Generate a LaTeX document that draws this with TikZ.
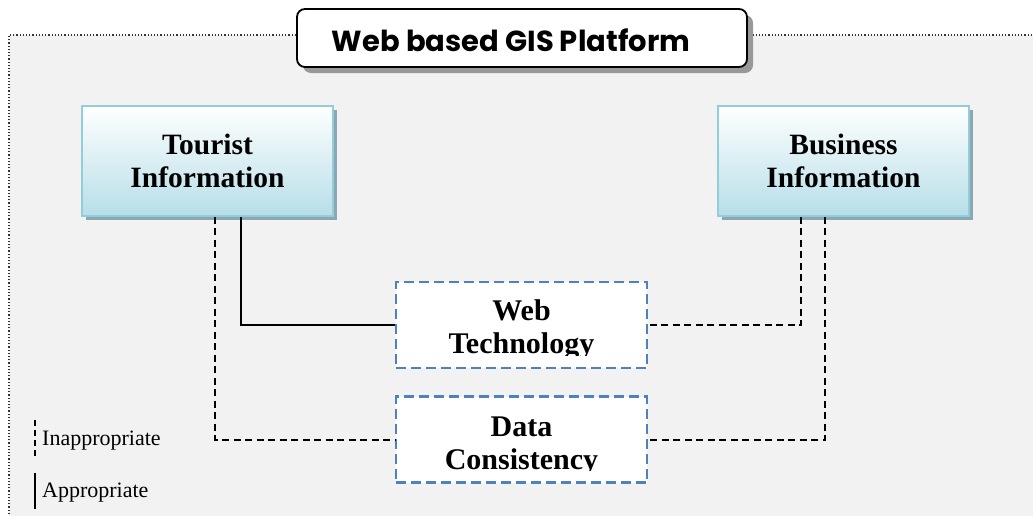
\documentclass[tikz,border=0pt]{standalone}
\usepackage{fontspec}
\setmainfont{Liberation Serif}
\newfontfamily\titlefont{Poppins}
\usetikzlibrary{calc}
\definecolor{bgray}{HTML}{F2F2F2}
\definecolor{infoborder}{HTML}{92CDDC}
\definecolor{infobottom}{HTML}{B7DEE8}
\definecolor{infoshadow}{HTML}{8BA7B2}
\definecolor{dashblue}{HTML}{4F81BD}
\tikzset{
  infobox/.style={draw=infoborder, line width=2pt, top color=white, bottom color=infobottom, middle color=white!50!infobottom,
    minimum width=251pt, minimum height=110pt, inner sep=0pt, align=center,
    font=\fontsize{29.5}{33}\selectfont\bfseries},
  infoshadowbox/.style={fill=infoshadow, minimum width=251pt, minimum height=110pt, inner sep=0pt},
  techbox/.style={draw=dashblue, line width=2.6pt, dash pattern=on 10pt off 5pt, fill=white,
    minimum width=251pt, minimum height=86pt, inner sep=0pt},
  techtext/.style={anchor=base, inner sep=0pt, font=\fontsize{30}{33}\selectfont\bfseries},
  conn/.style={line width=2pt, black},
  dconn/.style={conn, dash pattern=on 7pt off 4.5pt},
  legendtext/.style={anchor=base west, inner sep=0pt, font=\fontsize{22}{24}\selectfont},
}
\begin{document}
\begin{tikzpicture}[x=1pt,y=-1pt]
\useasboundingbox (0,0) rectangle (1033,515);
% background panel
\fill[bgray] (9,35) rectangle (1045,530);
\draw[line width=1.2pt, dotted, black!80] (9,530) -- (9,35) -- (1045,35);
% title
\fill[black!40, rounded corners=8pt] (303,15) rectangle (753,73);
\node[draw=black, line width=1.8pt, fill=white, rounded corners=8pt, minimum width=450pt, minimum height=58pt, inner sep=0pt] (title) at (522,38) {};
\node[inner sep=0pt, anchor=base, font=\titlefont\fontsize{29}{30}\selectfont\bfseries] (titletext) at (511,51) {Web based GIS Platform};
% info boxes
\node[infoshadowbox] at (211.5,164.5) {};
\node[infobox] (tourist) at (207.5,160.5) {Tourist\\Information};
\node[infoshadowbox] at (847.5,164.5) {};
\node[infobox] (business) at (843.5,160.5) {Business\\Information};
% tech boxes
\node[techbox] (web) at (521.5,325) {};
\node[techbox] (data) at (521.5,439.5) {};
\begin{scope}
  \clip (web.west |- 0,284) rectangle (web.east |- 0,355);
  \node[techtext] (webtext1) at (521.5,320) {Web};
  \node[techtext] (webtext2) at (521.5,353) {Technology};
\end{scope}
\begin{scope}
  \clip (data.west |- 0,399) rectangle (data.east |- 0,470);
  \node[techtext] (datatext1) at (521.5,436) {Data};
  \node[techtext] (datatext2) at (521.5,469) {Consistency};
\end{scope}
% connectors
\draw[conn] (tourist.south -| 241,0) |- (web.west);
\draw[dconn] (tourist.south -| 215,0) |- (data.west);
\draw[dconn] (business.south -| 801,0) |- (web.east);
\draw[dconn] (business.south -| 825,0) |- (data.east);
% legend
\coordinate (l1a) at (35,420);
\coordinate (l1b) at (35,456);
\coordinate (l2a) at (35,473);
\coordinate (l2b) at (35,509);
\draw[conn, line width=1.6pt, dash pattern=on 6pt off 4pt] (l1a) -- (l1b);
\draw[conn, line width=1.6pt] (l2a) -- (l2b);
\node[legendtext] (inapp) at (42,445) {Inappropriate};
\node[legendtext] (app) at (42,497) {Appropriate};
\end{tikzpicture}
\end{document}
